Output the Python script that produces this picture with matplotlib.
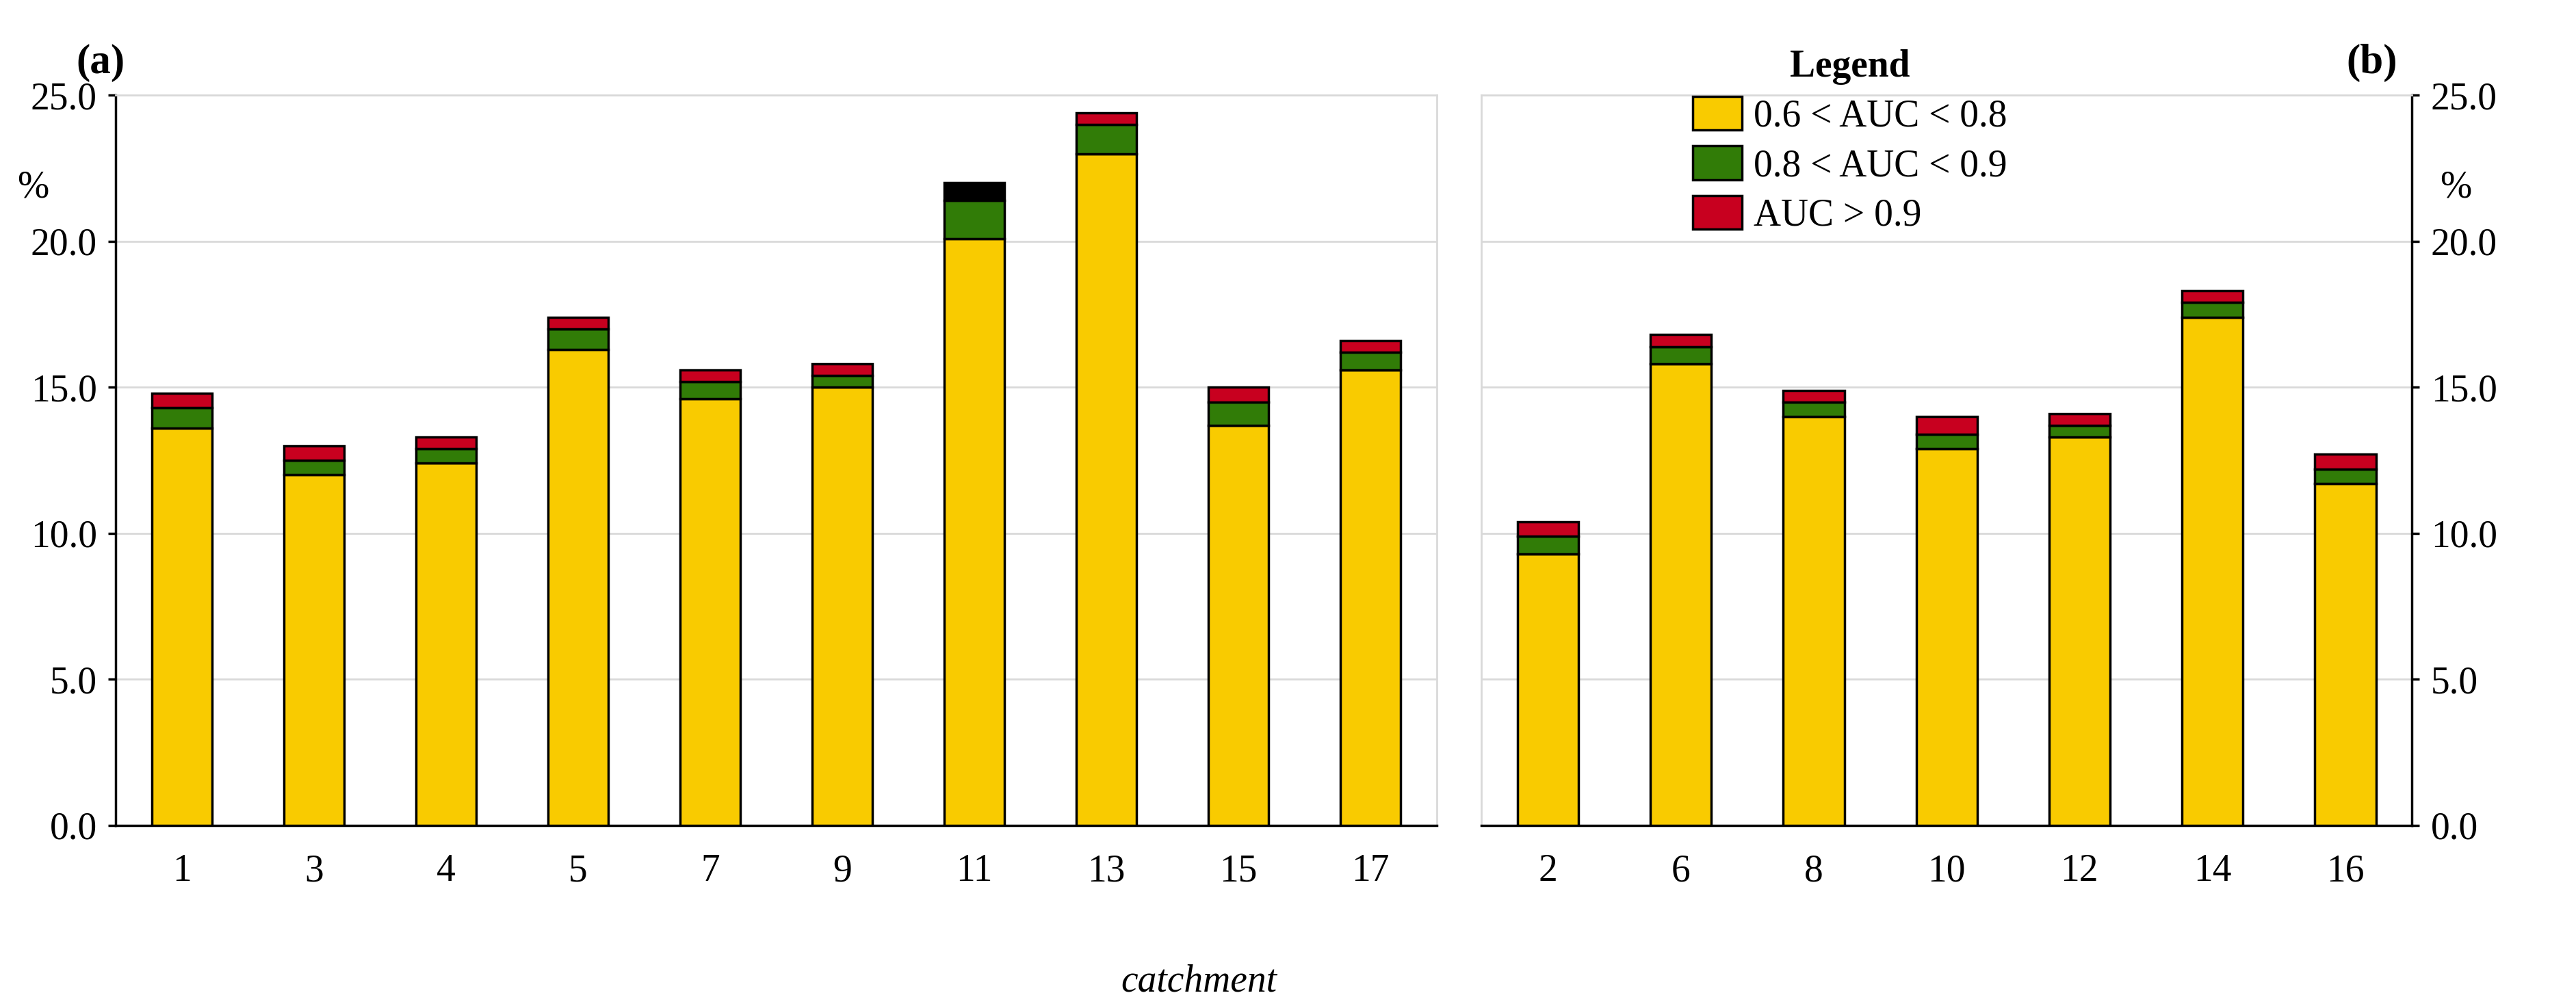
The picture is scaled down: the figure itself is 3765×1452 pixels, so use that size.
import numpy as np
import matplotlib.pyplot as plt
from matplotlib.patches import Patch

plt.rcParams['font.family'] = ['Liberation Serif', 'DejaVu Serif']

# panel (a)
cat_a = ['1', '3', '4', '5', '7', '9', '11', '13', '15', '17']
low_a = [13.6, 12.0, 12.4, 16.3, 14.6, 15.0, 20.1, 23.0, 13.7, 15.6]
mid_a = [0.7, 0.5, 0.5, 0.7, 0.6, 0.4, 1.3, 1.0, 0.8, 0.6]
high_a = [0.5, 0.5, 0.4, 0.4, 0.4, 0.4, 0.6, 0.4, 0.5, 0.4]
# panel (b)
cat_b = ['2', '6', '8', '10', '12', '14', '16']
low_b = [9.3, 15.8, 14.0, 12.9, 13.3, 17.4, 11.7]
mid_b = [0.6, 0.6, 0.5, 0.5, 0.4, 0.5, 0.5]
high_b = [0.5, 0.4, 0.4, 0.6, 0.4, 0.4, 0.5]

c_low, c_mid, c_high = '#f9cb00', '#317c07', '#c8001f'
fig = plt.figure(figsize=(37.66, 14.52), dpi=100)
ax1 = fig.add_axes([0.045, 0.169, 0.5125, 0.735])
ax2 = fig.add_axes([0.575, 0.169, 0.361, 0.735])


def draw(ax, cats, low, mid, high, high_cols):
    x = np.arange(len(cats))
    kw = dict(width=0.46, edgecolor='black', linewidth=2.5, zorder=3)
    ax.bar(x, low, color=c_low, **kw)
    ax.bar(x, mid, bottom=low, color=c_mid, **kw)
    ax.bar(x, high, bottom=np.add(low, mid), color=high_cols, **kw)
    ax.set_xticks(x, cats)
    ax.set_xlim(-0.5, len(cats) - 0.5)
    ax.set_ylim(0, 25)
    ax.set_yticks(np.arange(0, 25.1, 5))
    ax.set_yticklabels(['%.1f' % v for v in np.arange(0, 25.1, 5)])
    ax.grid(axis='y', color='#d9d9d9', linewidth=2, zorder=0)
    ax.tick_params(labelsize=40, width=2.5, length=8, pad=12)
    ax.tick_params(axis='x', length=0, pad=30)
    for s in ax.spines.values():
        s.set_color('#d9d9d9')
        s.set_linewidth(2)


cols_a = [c_high] * len(cat_a)
cols_a[6] = 'black'
draw(ax1, cat_a, low_a, mid_a, high_a, cols_a)
draw(ax2, cat_b, low_b, mid_b, high_b, c_high)

ax1.spines['left'].set_color('black')
ax1.spines['bottom'].set_color('black')
ax1.spines['left'].set_linewidth(2.5)
ax1.spines['bottom'].set_linewidth(2.5)
ax2.spines['right'].set_color('black')
ax2.spines['bottom'].set_color('black')
ax2.spines['right'].set_linewidth(2.5)
ax2.spines['bottom'].set_linewidth(2.5)
ax2.yaxis.tick_right()
ax2.tick_params(axis='y', left=False)

ax1.text(-0.075, 0.86, '%', transform=ax1.transAxes, fontsize=40)
ax2.text(1.03, 0.86, '%', transform=ax2.transAxes, fontsize=40)
ax1.text(-0.03, 1.03, '(a)', transform=ax1.transAxes, fontsize=44, fontweight='bold')
ax2.text(0.93, 1.03, '(b)', transform=ax2.transAxes, fontsize=44, fontweight='bold')
ax1.set_xlabel('catchment', fontsize=40, style='italic')
ax1.xaxis.set_label_coords(0.82, -0.19)

handles = [Patch(facecolor=c, edgecolor='black', linewidth=2.5) for c in (c_low, c_mid, c_high)]
leg = ax2.legend(handles, ['0.6 < AUC < 0.8', '0.8 < AUC < 0.9', 'AUC > 0.9'],
                 title='Legend', loc='upper left', bbox_to_anchor=(0.19, 1.11),
                 fontsize=40, title_fontsize=40, frameon=False,
                 handlelength=1.3, handleheight=1.0, labelspacing=0.3, handletextpad=0.3)
leg.get_title().set_fontweight('bold')

fig.savefig('out.png', dpi=100)
